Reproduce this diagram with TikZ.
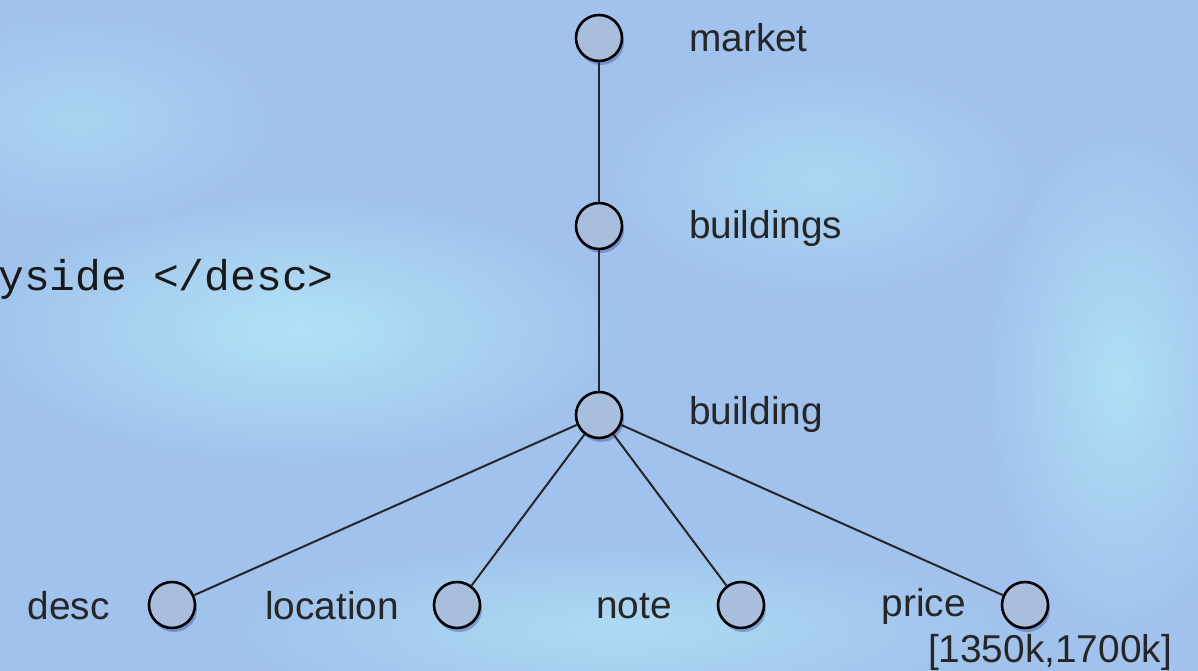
\documentclass[tikz,border=0pt]{standalone}
\usepackage{fontspec}
\setmainfont{Liberation Sans}
\newfontfamily\codefont{Liberation Mono}
\usetikzlibrary{shadows}
\definecolor{bgblue}{RGB}{160,194,236}
\definecolor{bgcyan}{RGB}{180,230,248}
\definecolor{nodefill}{RGB}{168,190,220}
\tikzset{
  tnode/.style={circle, draw=black, line width=2.6pt, fill=nodefill, minimum size=46pt, inner sep=0pt,
    drop shadow={shadow xshift=2pt, shadow yshift=-4pt, opacity=0.25, fill=black!60!blue}},
  lbl/.style={font=\fontsize{38.8}{46}\selectfont, text=black!85, inner sep=0pt},
  edge/.style={line width=2pt, draw=black!85},
}
\begin{document}
\begin{tikzpicture}[x=1pt,y=-1pt]
\useasboundingbox (0,0) rectangle (1198,670);
\fill[bgblue] (-5,-5) rectangle (1203,675);
\begin{scope}
\clip (-5,-5) rectangle (1203,675);
\shade[inner color=bgcyan, outer color=bgblue, opacity=0.9] (300,330) ellipse (330 and 140);
\shade[inner color=bgcyan, outer color=bgblue, opacity=0.8] (1120,380) ellipse (140 and 260);
\shade[inner color=bgcyan, outer color=bgblue, opacity=0.7] (620,630) ellipse (400 and 90);
\shade[inner color=bgcyan, outer color=bgblue, opacity=0.6] (820,180) ellipse (220 and 120);
\shade[inner color=bgcyan, outer color=bgblue, opacity=0.5] (80,120) ellipse (200 and 110);
\end{scope}
\node[anchor=base east, inner sep=0pt, font=\codefont\fontsize{43}{48}\selectfont, text=black!90] (code) at (334,290) {yside </desc>};
\node[tnode] (market) at (599,38) {};
\node[tnode] (buildings) at (599,226) {};
\node[tnode] (building) at (599,415) {};
\node[tnode] (desc) at (172,605) {};
\node[tnode] (location) at (457,605) {};
\node[tnode] (note) at (741,605) {};
\node[tnode] (price) at (1025,605) {};
\draw[edge] (market) -- (buildings);
\draw[edge] (buildings) -- (building);
\foreach \n in {desc,location,note,price} \draw[edge] (building) -- (\n);
\node[lbl, anchor=west] (lmarket) at (689,38) {market};
\node[lbl, anchor=west] (lbuildings) at (689,228) {buildings};
\node[lbl, anchor=west] (lbuilding) at (689,414) {building};
\node[lbl, anchor=east] (ldesc) at (110,606) {desc};
\node[lbl, anchor=east] (llocation) at (399,606) {location};
\node[lbl, anchor=east] (lnote) at (672,606) {note};
\node[lbl, anchor=east] (lprice) at (966,606) {price};
\node[lbl, anchor=east] (range) at (1172,652) {[1350k,1700k]};
\end{tikzpicture}
\end{document}
